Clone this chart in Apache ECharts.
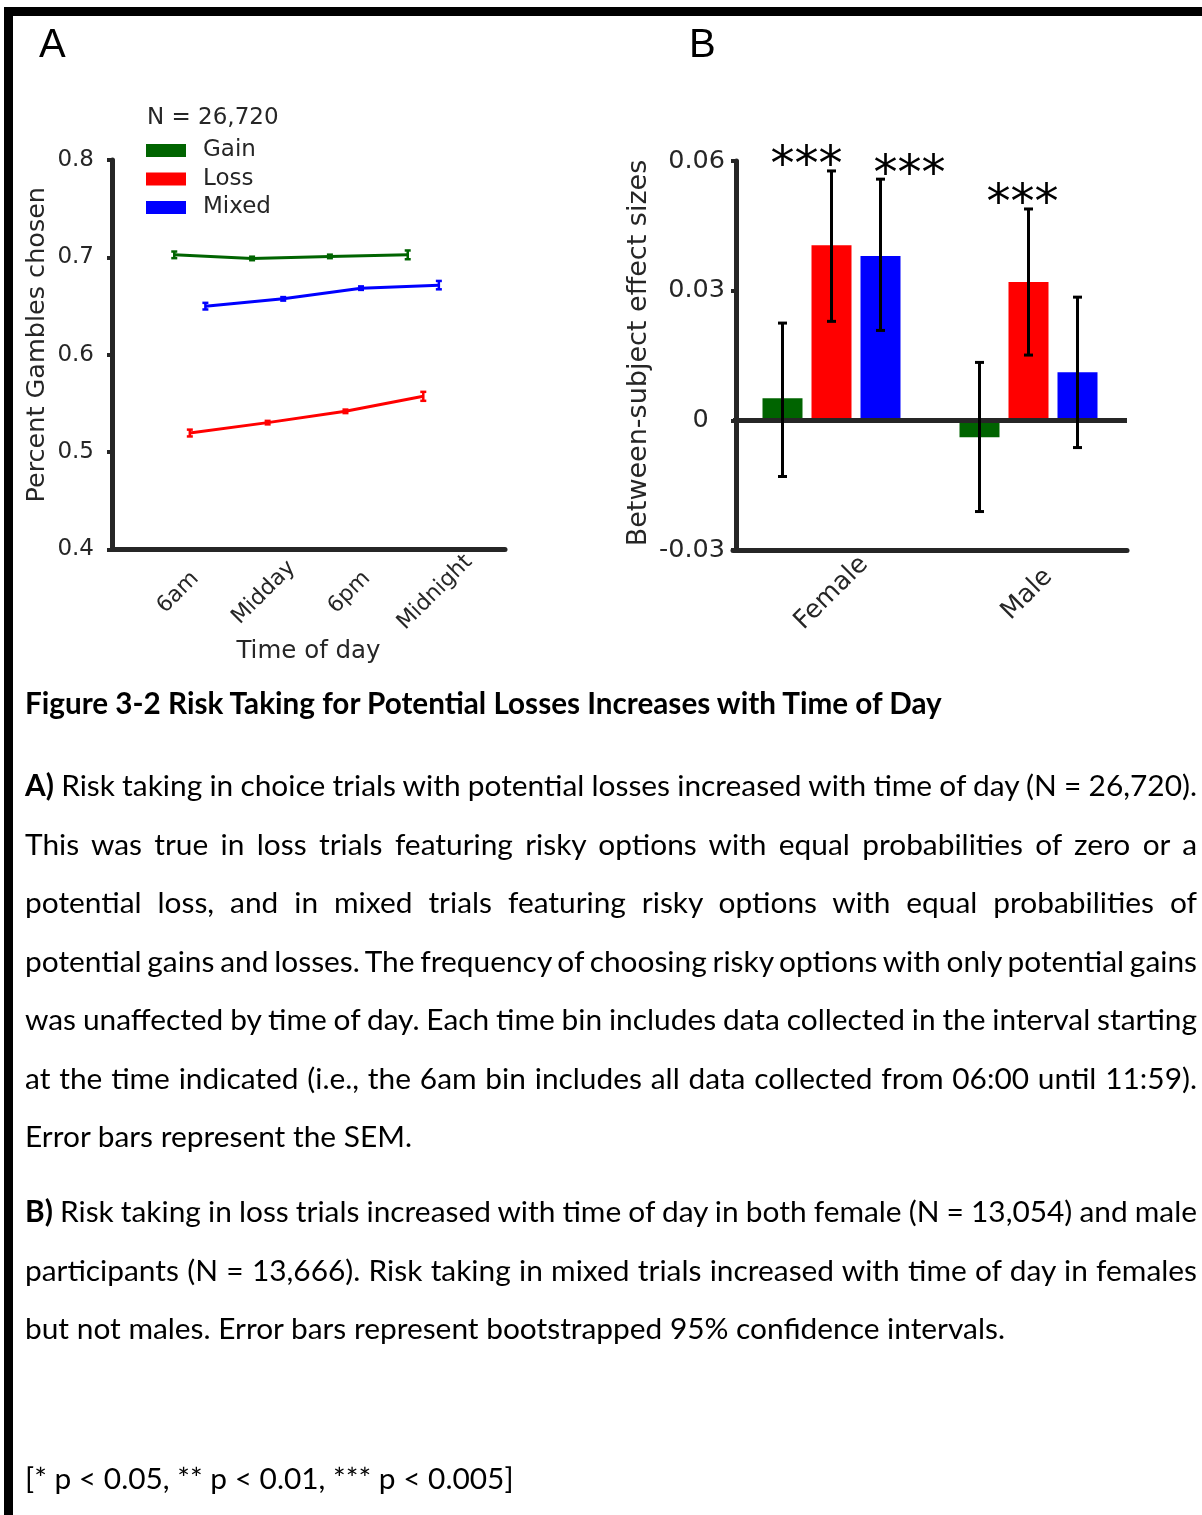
<!DOCTYPE html>
<html>
<head>
<meta charset="utf-8">
<title>Figure 3-2 Risk Taking for Potential Losses Increases with Time of Day</title>
<script src="https://cdn.jsdelivr.net/npm/echarts@6/dist/echarts.min.js"></script>
<style>
  html, body { margin: 0; padding: 0; background: #fff; }
  #chart { position: absolute; left: 0; top: 0; width: 1202px; height: 1515px; }
  #caption { position: absolute; left: 0; top: 0; width: 1202px; height: 1515px; pointer-events: none; }
  .ln { position: absolute; left: 25px; white-space: nowrap; color: #000;
        font-family: Lato, "Noto Sans", sans-serif; }
  .ln b { font-weight: 700; }
</style>
</head>
<body>
<div id="chart"></div>
<div id="caption"></div>
<script>
// ---------- Panel A: proportion of gambles chosen by time of day ----------
const timeBins  = ['6am', 'Midday', '6pm', 'Midnight'];
const gainRate  = [0.7026, 0.6989, 0.7010, 0.7026];
const lossRate  = [0.5196, 0.5303, 0.5419, 0.5573];
const mixedRate = [0.6499, 0.6574, 0.6684, 0.6715];
const gainSem   = [0.0034, 0.0018, 0.0018, 0.0045];
const lossSem   = [0.0035, 0.0018, 0.0018, 0.0046];
const mixedSem  = [0.0034, 0.0018, 0.0018, 0.0043];
const yTicksA   = [0.4, 0.5, 0.6, 0.7, 0.8];

// ---------- Panel B: between-subject effect sizes by sex ----------
const sexGroups = ['Female', 'Male'];
const effGain   = [0.0051, -0.0039];
const effLoss   = [0.0405, 0.0320];
const effMixed  = [0.0380, 0.0111];
const ciGain    = [[-0.0130, 0.0225], [-0.0211, 0.0134]];
const ciLoss    = [[0.0229, 0.0577], [0.0151, 0.0489]];
const ciMixed   = [[0.0208, 0.0558], [-0.0063, 0.0285]];
const sigGain   = ['', ''];
const sigLoss   = ['***', '***'];
const sigMixed  = ['***', ''];
const yTicksB   = [-0.03, 0, 0.03, 0.06];

// ---------- styling / layout ----------
const CONDS = ['Gain', 'Loss', 'Mixed'];
const COLOR = { Gain: '#006400', Loss: '#ff0000', Mixed: '#0000ff' };
const INK = '#262626';
const FONT = '"DejaVu Sans"';
const DODGE_A = { Gain: -0.2, Loss: 0, Mixed: 0.2 };     // horizontal offset of each line
const LABEL_POS_A = [-0.15, 0.95, 2.05, 3.15];           // where the time-bin labels sit
const BAR_W = 40, BAR_GAP = 9, BAR_PITCH = BAR_W + BAR_GAP;
const STAR_SHIFT = { Gain: [0, 0], Loss: [-25, -6], Mixed: [29, 0] };
const STAR_LIFT = 3;
const STAR_FONT = 48;

function seg(x1, y1, x2, y2, stroke, w) {
  return { type: 'line', shape: { x1, y1, x2, y2 }, style: { stroke, lineWidth: w } };
}

// SEM whiskers for the panel A lines
function semSeries(name, rate, sem) {
  const color = COLOR[name];
  return {
    type: 'custom', xAxisIndex: 0, yAxisIndex: 0, z: 4, silent: true,
    data: rate.map((v, i) => [i + DODGE_A[name], v, sem[i]]),
    encode: { x: 0, y: 1 },
    renderItem(params, api) {
      const x = api.value(0), y = api.value(1), e = api.value(2);
      const hi = api.coord([x, y + e]), lo = api.coord([x, y - e]);
      const c = 3;
      return { type: 'group', children: [
        seg(hi[0], hi[1], lo[0], lo[1], color, 2.5),
        seg(hi[0] - c, hi[1], hi[0] + c, hi[1], color, 2.5),
        seg(lo[0] - c, lo[1], lo[0] + c, lo[1], color, 2.5)
      ] };
    }
  };
}

function lineSeries(name, rate) {
  return {
    type: 'line', name, xAxisIndex: 0, yAxisIndex: 0, z: 3,
    data: rate.map((v, i) => [i + DODGE_A[name], v]),
    symbol: 'none',
    lineStyle: { color: COLOR[name], width: 3 },
    itemStyle: { color: COLOR[name] }
  };
}

function barSeries(name, eff, extra) {
  return Object.assign({
    type: 'bar', name, xAxisIndex: 1, yAxisIndex: 1, z: 2,
    data: eff, barWidth: BAR_W, barGap: (BAR_GAP / BAR_W * 100) + '%',
    itemStyle: { color: COLOR[name] }
  }, extra || {});
}

// confidence-interval whiskers and significance stars for panel B
function ciSeries(name, ci, sig) {
  const dx = (CONDS.indexOf(name) - 1) * BAR_PITCH;
  return {
    type: 'custom', xAxisIndex: 1, yAxisIndex: 1, z: 6, silent: true,
    data: ci.map((c, i) => [i, c[0], c[1]]),
    encode: { x: 0, y: [1, 2] },
    renderItem(params, api) {
      const i = api.value(0);
      const cx = api.coord([i, 0])[0] + dx;
      const yLo = api.coord([i, api.value(1)])[1];
      const yHi = api.coord([i, api.value(2)])[1];
      const c = 4.5;
      const children = [
        seg(cx, yLo, cx, yHi, '#000', 3),
        seg(cx - c, yLo, cx + c, yLo, '#000', 3),
        seg(cx - c, yHi, cx + c, yHi, '#000', 3)
      ];
      const s = sig[params.dataIndex];
      if (s) {
        children.push({ type: 'text', style: {
          text: s, x: cx + STAR_SHIFT[name][params.dataIndex], y: yHi - STAR_LIFT,
          align: 'center', verticalAlign: 'middle',
          font: STAR_FONT + 'px ' + FONT, fill: '#000' } });
      }
      return { type: 'group', children };
    }
  };
}

const axisLineStyle = { show: true, onZero: false, lineStyle: { color: INK, width: 5 } };
const axisTickStyle = { show: true, length: 5, lineStyle: { color: INK, width: 4 } };

const option = {
  animation: false,
  textStyle: { fontFamily: FONT, color: INK },
  grid: [
    { left: 112, top: 160, width: 393, height: 389.5 },
    { left: 733, top: 161, width: 394, height: 389 }
  ],
  legend: {
    data: CONDS, orient: 'vertical', left: 141, top: 134,
    icon: 'rect', itemWidth: 40, itemHeight: 13, itemGap: 5.5,
    selectedMode: false,
    textStyle: { fontFamily: FONT, fontSize: 23, color: INK, lineHeight: 22, padding: [0, 0, 0, 12] }
  },
  xAxis: [
    {
      gridIndex: 0, type: 'value', min: -1, max: 4.05,
      axisLine: axisLineStyle, axisTick: { show: false }, splitLine: { show: false },
      axisLabel: {
        customValues: LABEL_POS_A,
        formatter: v => timeBins[LABEL_POS_A.findIndex(p => Math.abs(p - v) < 1e-6)] || '',
        rotate: 45, align: 'center', verticalAlign: 'middle', margin: 43,
        fontSize: 22, color: INK
      },
      name: 'Time of day', nameLocation: 'middle', nameGap: 90, nameMoveOverlap: false,
      nameTextStyle: { fontSize: 24.5, color: INK, verticalAlign: 'top' }
    },
    {
      gridIndex: 1, type: 'category',
      data: [sexGroups[0], { value: sexGroups[1],
        textStyle: { align: 'center', verticalAlign: 'middle', padding: [0, 4, 18, 0] } }],
      axisLine: axisLineStyle, axisTick: { show: false }, splitLine: { show: false },
      axisLabel: { rotate: 45, align: 'center', verticalAlign: 'middle', margin: 43,
                   fontSize: 25.5, color: INK, interval: 0 }
    }
  ],
  yAxis: [
    {
      gridIndex: 0, type: 'value',
      min: yTicksA[0], max: yTicksA[yTicksA.length - 1], interval: 0.1,
      axisLine: axisLineStyle, axisTick: axisTickStyle, splitLine: { show: false },
      axisLabel: { formatter: v => v.toFixed(1), fontSize: 23, color: INK, margin: 18 },
      name: 'Percent Gambles chosen', nameLocation: 'middle', nameGap: 62, nameMoveOverlap: false,
      nameTextStyle: { fontSize: 25.5, color: INK, padding: [0, 0, 0, 20] }
    },
    {
      gridIndex: 1, type: 'value', offset: -3,
      min: yTicksB[0], max: yTicksB[yTicksB.length - 1], interval: 0.03,
      axisLine: axisLineStyle, axisTick: axisTickStyle, splitLine: { show: false },
      axisLabel: { formatter: v => (Math.abs(v) < 1e-9 ? '0  ' : v.toFixed(2)),
                   fontSize: 25.5, color: INK, margin: 11 },
      name: 'Between-subject effect sizes', nameLocation: 'middle', nameGap: 84, nameMoveOverlap: false,
      nameTextStyle: { fontSize: 27, color: INK, padding: [0, 0, 0, 5] }
    }
  ],
  series: [
    lineSeries('Gain', gainRate),
    lineSeries('Loss', lossRate),
    lineSeries('Mixed', mixedRate),
    semSeries('Gain', gainRate, gainSem),
    semSeries('Loss', lossRate, lossSem),
    semSeries('Mixed', mixedRate, mixedSem),
    barSeries('Gain', effGain, {
      markLine: {
        silent: true, symbol: ['none', 'none'], label: { show: false },
        lineStyle: { color: INK, width: 5, type: 'solid' },
        data: [{ yAxis: 0 }]
      }
    }),
    barSeries('Loss', effLoss),
    barSeries('Mixed', effMixed),
    ciSeries('Gain', ciGain, sigGain),
    ciSeries('Loss', ciLoss, sigLoss),
    ciSeries('Mixed', ciMixed, sigMixed)
  ],
  graphic: [
    { type: 'rect', shape: { x: 4, y: 7, width: 1198, height: 9 }, style: { fill: '#000' }, silent: true },
    { type: 'rect', shape: { x: 4, y: 7, width: 9, height: 1508 }, style: { fill: '#000' }, silent: true },
    { type: 'text', x: 39, y: 46, silent: true,
      style: { text: 'A', font: '40px "Liberation Sans"', fill: '#000', verticalAlign: 'middle' } },
    { type: 'text', x: 689, y: 46, silent: true,
      style: { text: 'B', font: '40px "Liberation Sans"', fill: '#000', verticalAlign: 'middle' } },
    { type: 'text', x: 147, y: 118, silent: true,
      style: { text: 'N = 26,720', font: '23px ' + FONT, fill: INK, verticalAlign: 'middle' } }
  ]
};

const chart = echarts.init(document.getElementById('chart'), null, { renderer: 'canvas', width: 1202, height: 1515 });
chart.setOption(option);

// ---------- caption ----------
const TEXT_LEFT = 25, TEXT_RIGHT = 1197;
const captionTitle = 'Figure 3-2 Risk Taking for Potential Losses Increases with Time of Day';
const captionLines = [
  { base: 796,  justify: true,  segs: [['A)', 1], [' Risk taking in choice trials with potential losses increased with time of day (N = 26,720).', 0]] },
  { base: 854.5, justify: true, segs: [['This was true in loss trials featuring risky options with equal probabilities of zero or a', 0]] },
  { base: 913,  justify: true,  segs: [['potential loss, and in mixed trials featuring risky options with equal probabilities of', 0]] },
  { base: 971.5, justify: true, segs: [['potential gains and losses. The frequency of choosing risky options with only potential gains', 0]] },
  { base: 1030, justify: true,  segs: [['was unaffected by time of day. Each time bin includes data collected in the interval starting', 0]] },
  { base: 1088.5, justify: true, segs: [['at the time indicated (i.e., the 6am bin includes all data collected from 06:00 until 11:59).', 0]] },
  { base: 1147, justify: false, segs: [['Error bars represent the SEM.', 0]] },
  { base: 1222, justify: true,  segs: [['B)', 1], [' Risk taking in loss trials increased with time of day in both female (N = 13,054) and male', 0]] },
  { base: 1280.5, justify: true, segs: [['participants (N = 13,666). Risk taking in mixed trials increased with time of day in females', 0]] },
  { base: 1339, justify: false, segs: [['but not males. Error bars represent bootstrapped 95% confidence intervals.', 0]] },
  { base: 1489, justify: false, segs: [['[* p < 0.05, ** p < 0.01, *** p < 0.005]', 0]] }
];
const titleBase = 714;

const cap = document.getElementById('caption');

function esc(s) { return s.replace(/&/g, '&amp;').replace(/</g, '&lt;').replace(/>/g, '&gt;'); }

function makeLine(segs, fs, allBold) {
  const d = document.createElement('div');
  d.className = 'ln';
  d.style.fontSize = fs + 'px';
  d.style.lineHeight = Math.round(fs * 1.3) + 'px';
  if (allBold) d.style.fontWeight = '700';
  d.innerHTML = segs.map(([t, b]) => (b ? '<b>' + esc(t) + '</b>' : esc(t))).join('') +
    '<span class="mk" style="display:inline-block;width:0;height:0;vertical-align:baseline"></span>';
  cap.appendChild(d);
  return d;
}

function fitSize(text, target, bold) {
  const d = makeLine([[text, 0]], 100, bold);
  const w = d.getBoundingClientRect().width;
  d.remove();
  return 100 * target / w;
}

function place(d, base) {
  d.style.top = '0px';
  const off = d.querySelector('.mk').offsetTop;
  d.style.top = (base - off) + 'px';
}

function buildCaption() {
  const fsBody = fitSize('but not males. Error bars represent bootstrapped 95% confidence intervals.', 980, false);
  const fsTitle = fitSize(captionTitle, 917, true);

  const t = makeLine([[captionTitle, 0]], fsTitle, true);
  place(t, titleBase);

  captionLines.forEach(L => {
    const d = makeLine(L.segs, fsBody, false);
    if (L.justify) {
      const w = d.getBoundingClientRect().width;
      const text = L.segs.map(s => s[0]).join('');
      const spaces = (text.match(/ /g) || []).length;
      d.style.wordSpacing = ((TEXT_RIGHT - TEXT_LEFT - w) / spaces) + 'px';
    }
    place(d, L.base);
  });
}

if (document.fonts && document.fonts.ready) {
  document.fonts.ready.then(buildCaption);
} else {
  buildCaption();
}
</script>
</body>
</html>
